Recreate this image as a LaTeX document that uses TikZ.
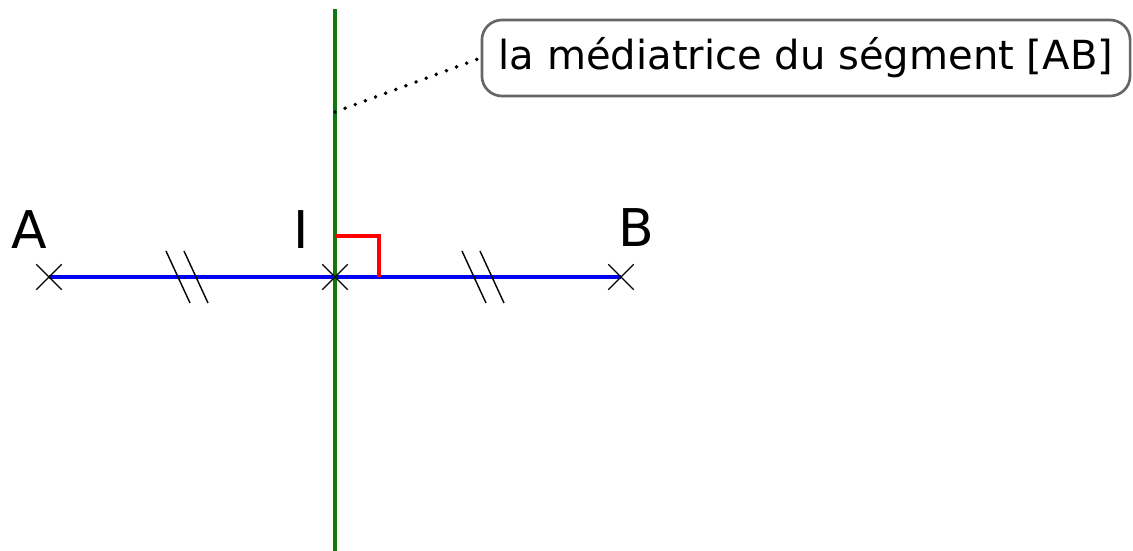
\documentclass[tikz,border=0pt]{standalone}
\usepackage{fontspec}
\setmainfont{DejaVu Sans}
\usetikzlibrary{shapes.misc}
\definecolor{segblue}{HTML}{0000F0}
\definecolor{medgreen}{HTML}{0E7A0E}
\definecolor{bulleline}{HTML}{666666}
\begin{document}
\begin{tikzpicture}[x=0.025cm,y=-0.025cm,
  point/.style={coordinate},
  croix/.style={draw=black, cross out, line width=0.9pt, minimum size=0.6cm, inner sep=0pt},
  lettre/.style={inner sep=0pt, font=\fontsize{37}{40}\selectfont},
  bulle/.style={draw=bulleline, line width=1.9pt, rounded corners=0.5cm, minimum width=16.2cm, minimum height=1.9cm, font=\fontsize{28.5}{32}\selectfont},
  segment/.style={draw=segblue, line width=2.3pt},
  mediatrice/.style={draw=medgreen, line width=2.9pt},
  codage/.style={draw=black, line width=1pt},
  angledroit/.style={draw=red, line width=2.6pt},
  rappel/.style={draw=black, line width=2.8pt, line cap=round, dash pattern=on 0pt off 0.27cm}]
\useasboundingbox (0,0) rectangle (1133,551);
\node[point] (A) at (49,277)  {};
\node[point] (I) at (335,277)  {};
\node[point] (B) at (621,277)  {};
\node[point] (M1) at (335,9)  {};
\node[point] (M2) at (335,551)  {};
\node[point] (M3) at (335,112)  {};
\node[point] (R1) at (335,236)  {};
\node[point] (R2) at (379,236)  {};
\node[point] (R3) at (379,277)  {};
\node[point] (t1) at (178,277)  {};
\node[point] (t2) at (196,277)  {};
\node[point] (t3) at (474,277)  {};
\node[point] (t4) at (492,277)  {};
\node[lettre] (lA) at (29,230)  {A};
\node[lettre] (lI) at (301,230)  {I};
\node[lettre] (lB) at (636,228)  {B};
\node[bulle] (note) at (806,58)  {la médiatrice du ségment [AB]};
\draw[segment]   (A) -- (B);
\draw[mediatrice]   (M1) -- (M2);
\draw[angledroit]   (R1) -- (R2) -- (R3);
\draw[rappel]   (M3) -- (note.west);
\foreach \t in {t1,t2,t3,t4}
  \draw[codage]   ([shift={(-12,-26)}]\t) -- ([shift={(12,26)}]\t);
\node[croix] (xA) at (A)  {};
\node[croix] (xI) at (I)  {};
\node[croix] (xB) at (B)  {};
\end{tikzpicture}
\end{document}
